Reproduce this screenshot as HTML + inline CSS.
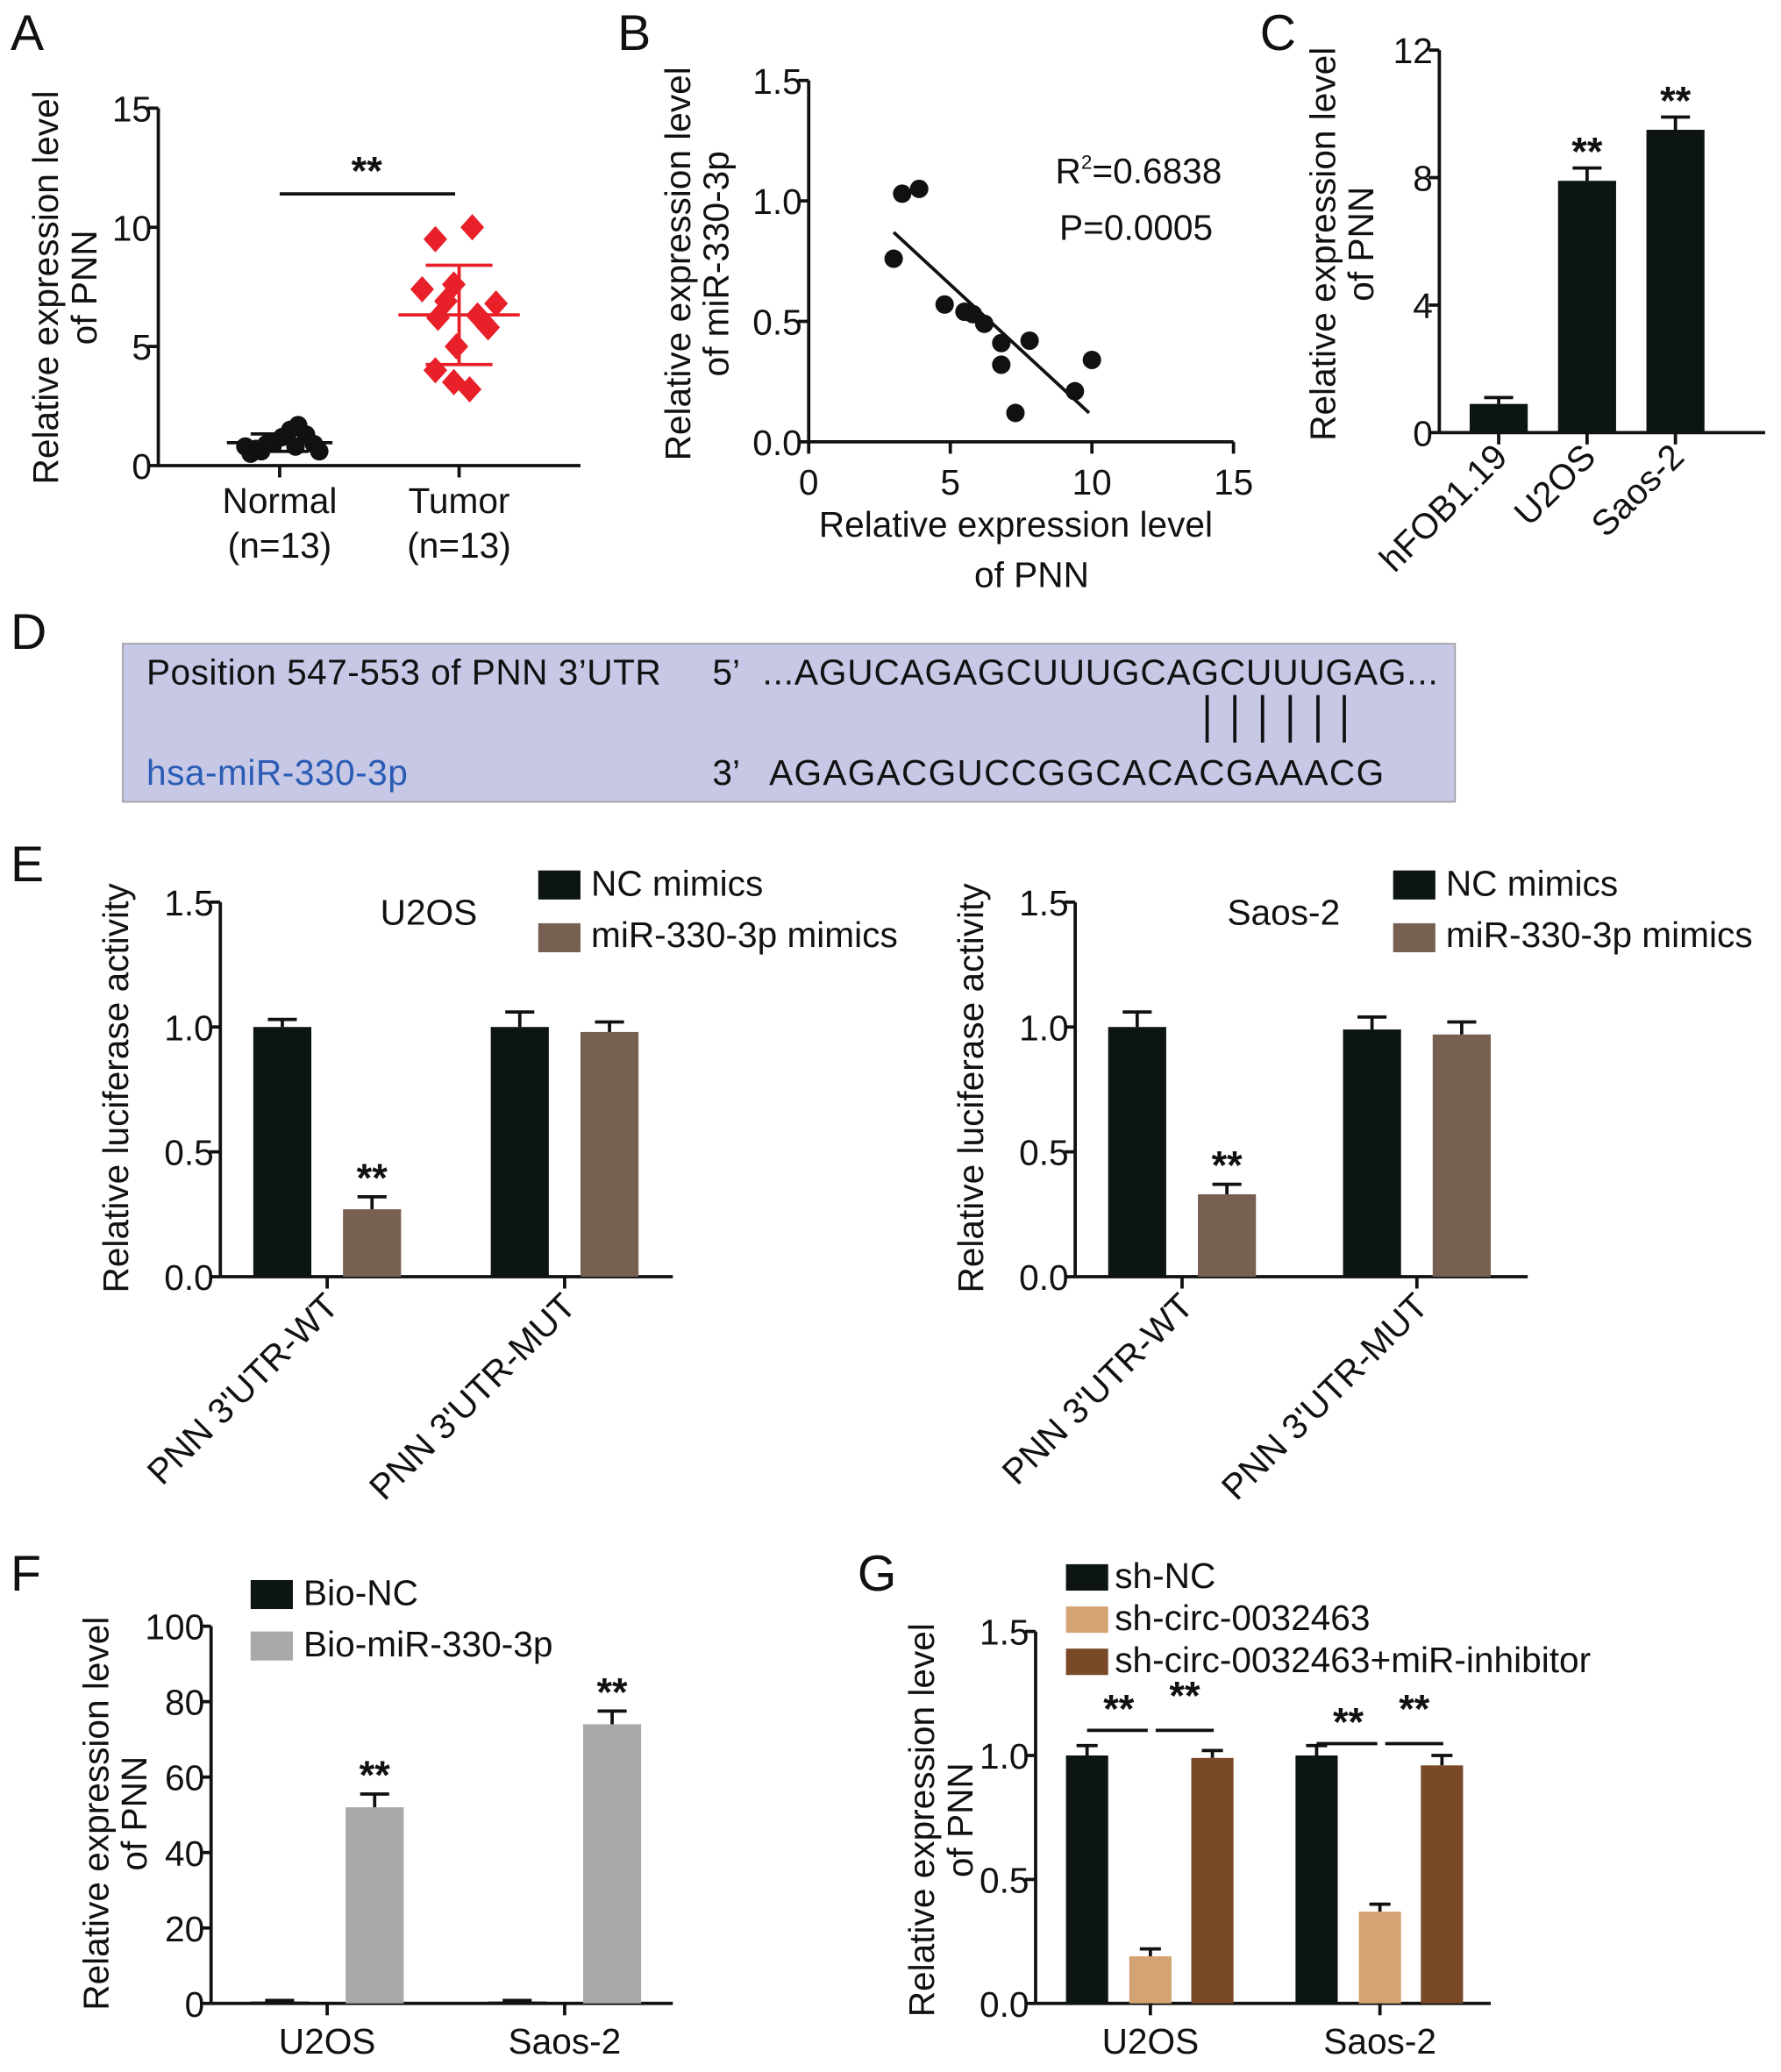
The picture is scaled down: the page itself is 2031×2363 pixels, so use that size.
<!DOCTYPE html>
<html><head><meta charset="utf-8"><style>
html,body{margin:0;padding:0;background:#fff}
svg{display:block}
text{font-family:"Liberation Sans",sans-serif}
</style></head><body>
<svg id="fig" width="2031" height="2363" viewBox="0 0 1350 1571" preserveAspectRatio="none">
<g id="root"></g>
</svg>
<script>
// ---- data ----
const aNormal=[0.8,0.7,0.9,1.0,1.2,1.5,1.7,1.3,0.9,0.6,0.5,0.8,0.6];
const aTumor=[10.0,9.5,7.6,7.4,6.9,6.8,6.3,6.2,5.8,5.0,4.0,3.5,3.2];
const aTicks=[0,5,10,15];
const bX=[3.0,3.3,3.9,4.8,5.5,5.8,6.2,6.8,6.8,7.3,7.8,9.4,10.0];
const bY=[0.76,1.03,1.05,0.57,0.54,0.53,0.49,0.41,0.32,0.12,0.42,0.21,0.34];
const bFit=[[3.0,0.87],[9.9,0.12]];
const cCats=["hFOB1.19","U2OS","Saos-2"];
const cVals=[0.9,7.9,9.5];
const cErr=[0.2,0.4,0.4];
const cTicks=[0,4,8,12];
const eCats=["PNN 3'UTR-WT","PNN 3'UTR-MUT"];
const eU2OSnc=[1.0,1.0], eU2OSmi=[0.27,0.98];
const eU2OSncErr=[0.03,0.06], eU2OSmiErr=[0.05,0.04];
const eSaosNc=[1.0,0.99], eSaosMi=[0.33,0.97];
const eSaosNcErr=[0.06,0.05], eSaosMiErr=[0.04,0.05];
const eTicks=[0,0.5,1.0,1.5];
const fCats=["U2OS","Saos-2"];
const fNC=[0.5,0.5], fBio=[52,74], fNCErr=[0.3,0.3], fBioErr=[3.5,3.5];
const fTicks=[0,20,40,60,80,100];
const gCats=["U2OS","Saos-2"];
const gNC=[1.0,1.0], gSh=[0.19,0.37], gInh=[0.99,0.96];
const gNCErr=[0.04,0.04], gShErr=[0.03,0.03], gInhErr=[0.03,0.04];
const gTicks=[0,0.5,1.0,1.5];

const NS="http://www.w3.org/2000/svg";
const root=document.getElementById('root');
function el(tag,attrs,parent,txt){const e=document.createElementNS(NS,tag);for(const k in attrs)e.setAttribute(k,attrs[k]);if(txt!==undefined)e.textContent=txt;(parent||root).appendChild(e);return e;}
function line(x1,y1,x2,y2,w,name,col){const l=el('line',{x1,y1,x2,y2,stroke:col||'#111','stroke-width':w||2.5});return l;}
function txt(x,y,s,size,name,extra){const t=el('text',Object.assign({x,y,'font-size':size||26,fill:'#111'},extra||{}),root,s);return t;}
function yAxis(x,y0,y1,vmin,vmax,ticks,fmt,name){
  const sc=v=>y0-(v-vmin)/(vmax-vmin)*(y0-y1);
  line(x,y0,x,y1,2.5,name+'-y-axis');
  ticks.forEach(t=>{const y=sc(t);line(x-8,y,x,y,2.5,name+'-y-tick');txt(x-5,y+10,fmt(t),27,name+'-y-tick-label',{'text-anchor':'end'});});
  return sc;
}
function rect(x,y,w,h,fill,name){const r=el('rect',{x,y,width:w,height:h,fill});return r;}
function bar(xl,w,v,e,sc,fill,name){const y0=sc(0),y=sc(v);rect(xl,y,w,y0-y,fill,name);const ye=sc(v+e);line(xl+w/2,y,xl+w/2,ye,2.5,name+'-error');line(xl+w*0.25,ye,xl+w*0.75,ye,2.5,name+'-error-cap');}
function label(x,y,s){txt(x,y,s,38,'panel-label-'+s);}
function stars(x,y){txt(x,y,'**',30,'significance-stars',{'text-anchor':'middle','font-weight':'bold'});}
function vtitle(x,y,lines,name){lines.forEach((s,i)=>txt(x+i*29,y,s,27,name,{'text-anchor':'middle',transform:`rotate(-90 ${x+i*29} ${y})`}));}

// ---- Panel A ----
label(8,38,'A');
{const sc=yAxis(120,353,82,0,15,aTicks,v=>v,'a');
 line(120,353,440,353,2.5,'a-x-axis');
 line(212,353,212,362,2.5,'a-x-tick');line(348,353,348,362,2.5,'a-x-tick');
 txt(212,389,'Normal',27,'a-x-label',{'text-anchor':'middle'});txt(212,423,'(n=13)',27,'a-x-label',{'text-anchor':'middle'});
 txt(348,389,'Tumor',27,'a-x-label',{'text-anchor':'middle'});txt(348,423,'(n=13)',27,'a-x-label',{'text-anchor':'middle'});
 vtitle(44,218,['Relative expression level','of PNN'],'a-y-title');
 const jit=[-26,-18,-10,-4,2,8,14,20,26,30,-22,12,-14];
 aNormal.forEach((v,i)=>{const c=el('circle',{cx:212+jit[i],cy:sc(v),r:7,fill:'#111'});});
 aTumor.forEach((v,i)=>{const x=348+[10,-18,-4,-28,-10,28,14,-16,22,-2,-18,-4,8][i],y=sc(v);const p=el('polygon',{points:`${x},${y-10} ${x+9},${y} ${x},${y+10} ${x-9},${y}`,fill:'#e8202a'});});
 function ms(arr,cx,col,w){const m=arr.reduce((a,b)=>a+b)/arr.length;const sd=Math.sqrt(arr.reduce((a,b)=>a+(b-m)**2,0)/(arr.length-1));
   line(cx-w,sc(m),cx+w,sc(m),2.5,'mean-line',col);line(cx,sc(m-sd),cx,sc(m+sd),2.5,'sd-line',col);line(cx-w*0.55,sc(m+sd),cx+w*0.55,sc(m+sd),2.5,'sd-cap',col);line(cx-w*0.55,sc(m-sd),cx+w*0.55,sc(m-sd),2.5,'sd-cap',col);}
 ms(aNormal,212,'#111',40);ms(aTumor,348,'#e8202a',46);
 line(212,147,345,147,2.5,'significance-bracket');stars(278,140);
}
// ---- Panel B ----
label(468,38,'B');
{const sy=yAxis(613,335,61,0,1.5,[0,0.5,1.0,1.5],v=>v.toFixed(1),'b');
 const sx=v=>613+v/15*(935-613);
 line(613,335,935,335,2.5,'b-x-axis');
 [0,5,10,15].forEach(t=>{line(sx(t),335,sx(t),344,2.5,'b-x-tick');txt(sx(t),375,t,27,'b-x-tick-label',{'text-anchor':'middle'});});
 txt(770,407,'Relative expression level',27,'b-x-title',{'text-anchor':'middle'});
 txt(782,445,'of PNN',27,'b-x-title',{'text-anchor':'middle'});
 vtitle(523,200,['Relative expression level','of miR-330-3p'],'b-y-title');
 bX.forEach((v,i)=>{const c=el('circle',{cx:sx(v),cy:sy(bY[i]),r:7,fill:'#111'});});
 line(sx(bFit[0][0]),sy(bFit[0][1]),sx(bFit[1][0]),sy(bFit[1][1]),2.5,'regression-line');
 const r=txt(800,139,'R',27,'r-squared');el('tspan',{'font-size':15,dy:-11},r,'2');el('tspan',{dy:11},r,'=0.6838');
 txt(803,182,'P=0.0005',27,'p-value');
}
// ---- Panel C ----
label(955,38,'C');
{const sc=yAxis(1091,328,38,0,12,cTicks,v=>v,'c');
 line(1091,328,1338,328,2.5,'c-x-axis');
 const xs=[1114,1181,1248];
 cCats.forEach((c,i)=>{bar(xs[i],44,cVals[i],cErr[i],sc,'#0d1512','c-bar-'+c);const cx=xs[i]+22;line(cx,328,cx,337,2.5,'c-x-tick');
  txt(cx+8,348,c,27,'c-x-tick-label',{'text-anchor':'end',transform:`rotate(-45 ${cx+8} ${348})`});
  if(i>0)stars(cx,sc(cVals[i]+cErr[i])-2);});
 vtitle(1012,185,['Relative expression level','of PNN'],'c-y-title');
}
// ---- Panel D ----
label(8,492,'D');
rect(93,488,1010,120,'#c7c8e6','sequence-box').setAttribute('stroke','#999');
txt(111,519,"Position 547-553 of PNN 3’UTR",27,'utr-label',{textLength:390});
txt(540,519,"5’",27,'five-prime');
txt(578,519,"...AGUCAGAGCUUUGCAGCUUUGAG...",27,'utr-sequence',{textLength:512});
txt(111,595,"hsa-miR-330-3p",27,'mirna-label',{fill:'#2a5bb5',textLength:198});
txt(540,595,"3’",27,'three-prime');
txt(583,595,"AGAGACGUCCGGCACACGAAACG",27,'mirna-sequence',{textLength:466});
[915,936,957,978,999,1019].forEach(x=>line(x,527,x,563,2.5,'pairing-line'));
// ---- Panel E ----
label(8,668,'E');
function eChart(ax,title,nc,mi,ncE,miE,bx,name){
 const sc=yAxis(ax,968,684,0,1.5,eTicks,v=>v.toFixed(1),name);
 line(ax,968,ax+343,968,2.5,name+'-x-axis');
 eCats.forEach((c,i)=>{bar(bx[i],44,nc[i],ncE[i],sc,'#0d1512',name+'-nc-bar');bar(bx[i]+68,44,mi[i],miE[i],sc,'#776052',name+'-mimic-bar');
   const cx=bx[i]+56;line(cx,968,cx,977,2.5,name+'-x-tick');
   txt(cx+10,992,c,27,name+'-x-tick-label',{'text-anchor':'end',transform:`rotate(-45 ${cx+10} 992)`});});
 stars(bx[0]+90,sc(mi[0]+miE[0])-4);
 vtitle(ax-70,825,['Relative luciferase activity'],name+'-y-title');
 txt(ax+158,701,title,27,name+'-title',{'text-anchor':'middle'});
 rect(ax+241,660,32,22,'#0d1512',name+'-legend-nc-swatch');txt(ax+281,679,'NC mimics',27,name+'-legend-nc');
 rect(ax+241,700,32,22,'#776052',name+'-legend-mimic-swatch');txt(ax+281,718,'miR-330-3p mimics',27,name+'-legend-mimic');
}
eChart(167,'U2OS',eU2OSnc,eU2OSmi,eU2OSncErr,eU2OSmiErr,[192,372],'e-u2os');
eChart(815,'Saos-2',eSaosNc,eSaosMi,eSaosNcErr,eSaosMiErr,[840,1018],'e-saos');
// ---- Panel F ----
label(8,1206,'F');
{const sc=yAxis(160,1519,1233,0,100,fTicks,v=>v,'f');
 line(160,1519,510,1519,2.5,'f-x-axis');
 const xs=[190,370];
 fCats.forEach((c,i)=>{bar(xs[i],44,fNC[i],fNCErr[i],sc,'#0d1512','f-bio-nc-bar');bar(xs[i]+72,44,fBio[i],fBioErr[i],sc,'#a8a8a8','f-bio-mir-bar');
  stars(xs[i]+94,sc(fBio[i]+fBioErr[i])-4);const cx=xs[i]+58;line(cx,1519,cx,1528,2.5,'f-x-tick');txt(cx,1557,c,27,'f-x-tick-label',{'text-anchor':'middle'});});
 vtitle(82,1375,['Relative expression level','of PNN'],'f-y-title');
 rect(190,1198,32,22,'#0d1512','f-legend-nc-swatch');txt(230,1217,'Bio-NC',27,'f-legend-nc');
 rect(190,1237,32,22,'#a8a8a8','f-legend-bio-swatch');txt(230,1256,'Bio-miR-330-3p',27,'f-legend-bio');
}
// ---- Panel G ----
label(650,1206,'G');
{const sc=yAxis(785,1519,1237,0,1.5,gTicks,v=>v.toFixed(1),'g');
 line(785,1519,1130,1519,2.5,'g-x-axis');
 const xs=[808,982];
 gCats.forEach((c,i)=>{const x=xs[i];
  bar(x,32,gNC[i],gNCErr[i],sc,'#0d1512','g-sh-nc-bar');
  bar(x+48,32,gSh[i],gShErr[i],sc,'#d4a373','g-sh-circ-bar');
  bar(x+95,32,gInh[i],gInhErr[i],sc,'#7a4a28','g-inhibitor-bar');
  const cx=x+64;line(cx,1519,cx,1528,2.5,'g-x-tick');txt(cx,1557,c,27,'g-x-tick-label',{'text-anchor':'middle'});
  const yb=i===0?1312:1322;
  line(x+16,yb,x+62,yb,2.5,'g-bracket');stars(x+40,yb-6);
  line(x+68,yb,x+112,yb,2.5,'g-bracket');stars(x+90,yb-16);
 });
 vtitle(708,1380,['Relative expression level','of PNN'],'g-y-title');
 rect(808,1186,32,20,'#0d1512','g-legend-nc-swatch');txt(845,1204,'sh-NC',27,'g-legend-nc');
 rect(808,1218,32,20,'#d4a373','g-legend-sh-swatch');txt(845,1236,'sh-circ-0032463',27,'g-legend-sh');
 rect(808,1250,32,20,'#7a4a28','g-legend-inh-swatch');txt(845,1268,'sh-circ-0032463+miR-inhibitor',27,'g-legend-inh');
}
</script>
</body></html>
